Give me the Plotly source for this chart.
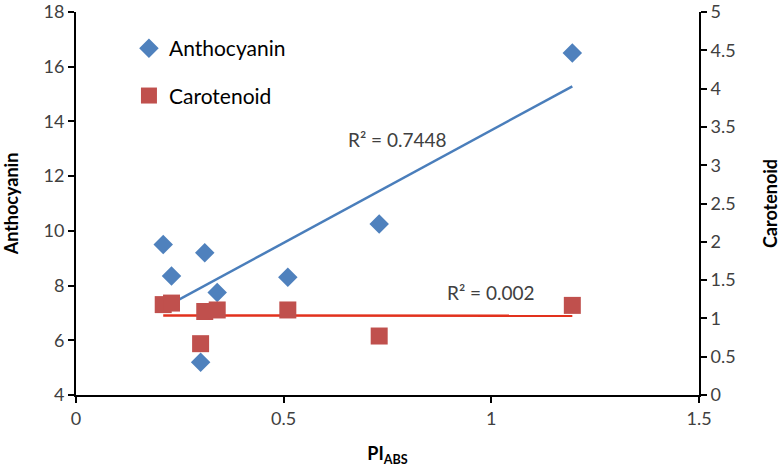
import numpy as np
import plotly.graph_objects as go

pi_abs = [0.21, 0.23, 0.31, 0.34, 0.30, 0.51, 0.73, 1.195]
anthocyanin = [9.5, 8.35, 9.2, 7.75, 5.2, 8.3, 10.25, 16.5]
carotenoid = [1.18, 1.2, 1.09, 1.11, 0.67, 1.11, 0.77, 1.17]
r2_labels = ["R² = 0.7448", "R² = 0.002"]

x_ticks = [0, 0.5, 1, 1.5]
x_tick_labels = ["0", "0.5", "1", "1.5"]
left_ticks = [4, 6, 8, 10, 12, 14, 16, 18]
right_ticks = [0, 0.5, 1, 1.5, 2, 2.5, 3, 3.5, 4, 4.5, 5]
right_tick_labels = ["0", "0.5", "1", "1.5", "2", "2.5", "3", "3.5", "4", "4.5", "5"]

x = np.array(pi_abs)
def fit(y):
    y = np.array(y)
    m, b = np.polyfit(x, y, 1)
    xs = np.array([x.min(), x.max()])
    return xs, m * xs + b

ax, ay = fit(anthocyanin)
cx, cy = fit(carotenoid)

BLUE = "#4F81BD"
RED = "#C0504D"
TXT = "#404040"
FONT = "Lato, 'Open Sans', sans-serif"

fig = go.Figure()
fig.add_trace(go.Scatter(x=ax, y=ay, mode="lines", line=dict(color="#4A7EBB", width=2.5),
                         showlegend=False, hoverinfo="skip"))
fig.add_trace(go.Scatter(x=cx, y=cy, mode="lines", line=dict(color="#E2311D", width=2.5),
                         showlegend=False, hoverinfo="skip", yaxis="y2"))
fig.add_trace(go.Scatter(x=pi_abs, y=anthocyanin, mode="markers", name="Anthocyanin",
                         legendgroup="a",
                         marker=dict(symbol="diamond", size=15, color=BLUE)))
fig.add_trace(go.Scatter(x=pi_abs, y=carotenoid, mode="markers", name="Carotenoid",
                         legendgroup="c", yaxis="y2",
                         marker=dict(symbol="square", size=17, color=RED)))

fig.add_annotation(x=0.775, y=13.35, xref="x", yref="y", text=r2_labels[0],
                   showarrow=False, font=dict(size=19, color=TXT, family=FONT))
fig.add_annotation(x=1.0, y=7.75, xref="x", yref="y", text=r2_labels[1],
                   showarrow=False, font=dict(size=19, color=TXT, family=FONT))

axis_common = dict(showline=True, linecolor="black", linewidth=2, ticks="outside",
                   ticklen=6, tickwidth=2, tickcolor="black", showgrid=False, zeroline=False,
                   automargin=False, ticklabeloverflow="allow",
                   tickfont=dict(size=18, color=TXT, family=FONT))

fig.update_layout(
    width=783, height=475,
    margin=dict(l=76, r=84, t=12, b=80),
    plot_bgcolor="white", paper_bgcolor="white",
    font=dict(family=FONT, color=TXT),
    xaxis=dict(range=[0, 1.5], tickvals=x_ticks, ticktext=x_tick_labels,
               title=dict(text="<b>PI<sub>ABS</sub></b>", font=dict(size=18, color="black"), standoff=20),
               **axis_common),
    yaxis=dict(range=[4, 18], tickvals=left_ticks,
               title=dict(text="<b>Anthocyanin</b>", font=dict(size=18, color="black"), standoff=26),
               **axis_common),
    yaxis2=dict(range=[0, 5], tickvals=right_ticks, ticktext=right_tick_labels,
                overlaying="y", side="right", anchor="x",
                title=dict(text="<b>Carotenoid</b>", font=dict(size=18, color="black"), standoff=30),
                **axis_common),
    legend=dict(x=0.085, y=0.958, xanchor="left", yanchor="top", bgcolor="rgba(0,0,0,0)",
                font=dict(size=21, color="black", family=FONT), tracegroupgap=17,
                itemwidth=30),
)

fig.write_html("out.html", config={"displayModeBar": False},
               post_script="document.body.style.margin='0';")
